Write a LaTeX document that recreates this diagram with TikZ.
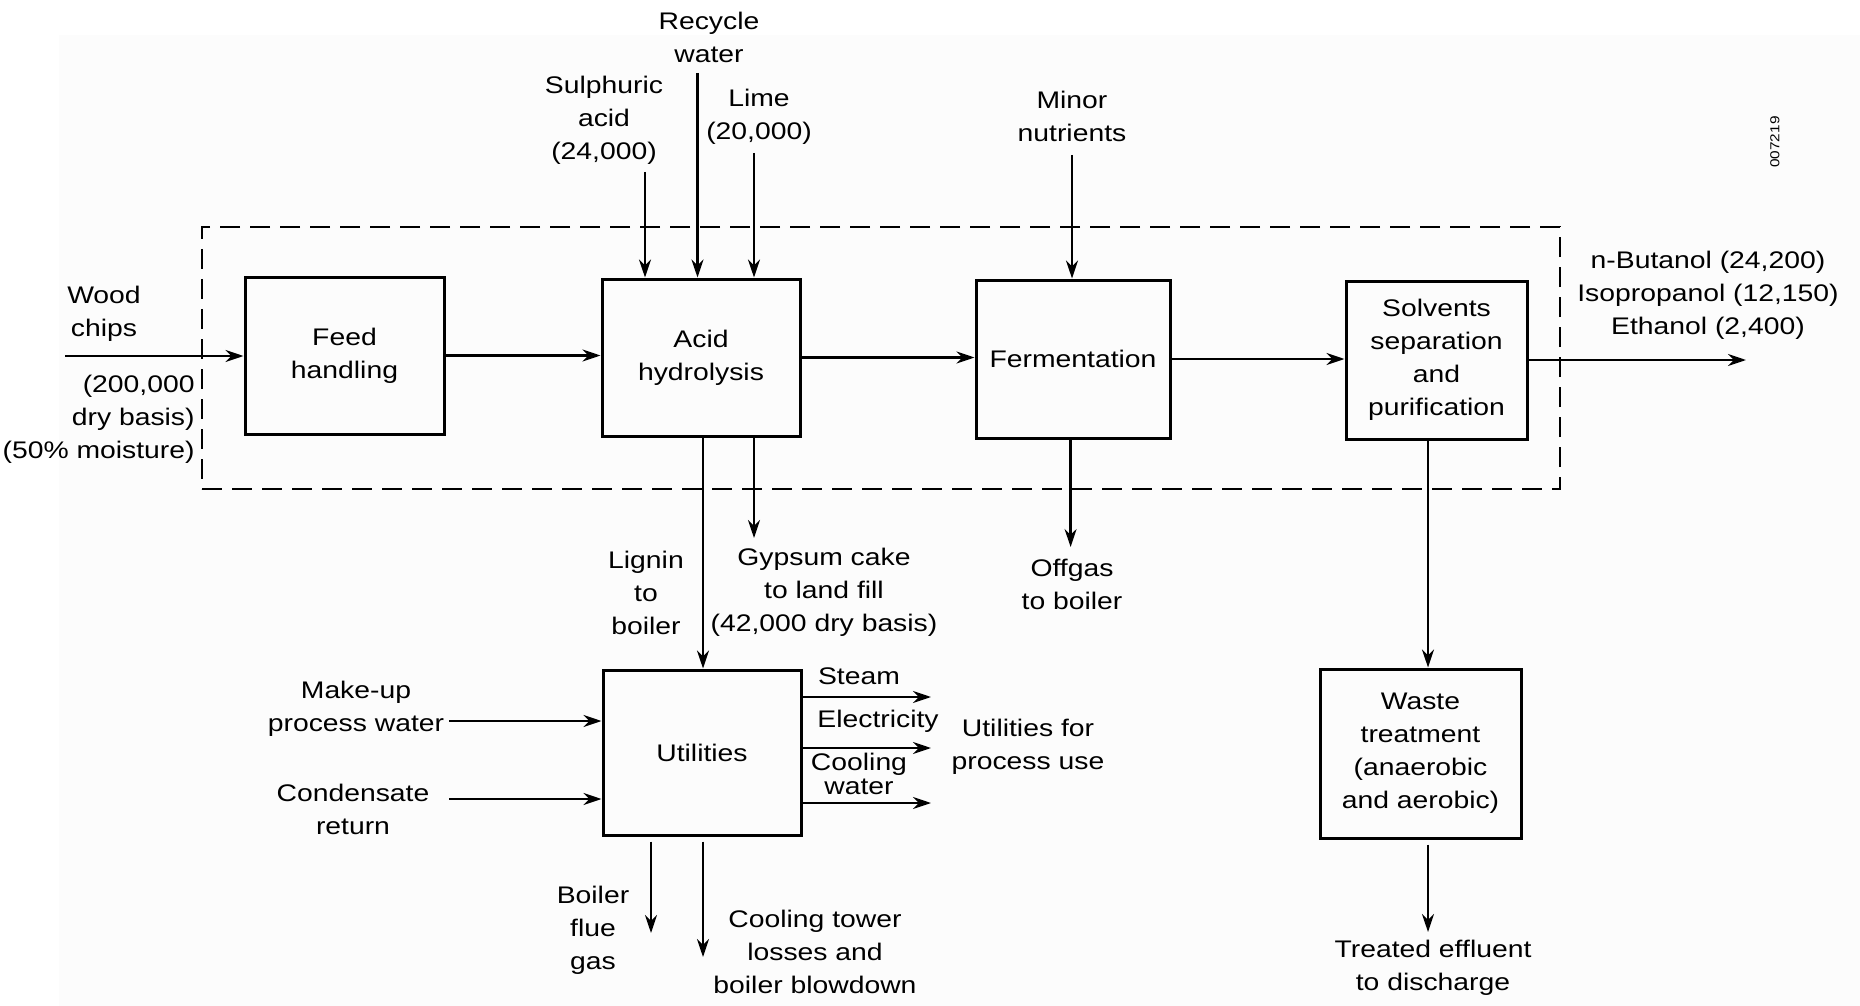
\documentclass[tikz,border=0pt]{standalone}
\usepackage{fontspec}
\setmainfont{Liberation Sans}[FakeStretch=1.18]
\usetikzlibrary{arrows.meta}
\definecolor{bgc}{RGB}{252,252,252}
\begin{document}
\begin{tikzpicture}[x=0.5pt,y=-0.5pt,
  lbl/.style={font=\fontsize{12}{16.5}\selectfont, align=center, inner sep=0pt},
  box/.style={draw, line width=1.5pt, font=\fontsize{12}{16.5}\selectfont, align=center, inner sep=0pt},
  arr/.style={line width=1.2pt, -{Stealth[length=9pt,width=6pt]}},
  dashbox/.style={draw, line width=1.4pt, dash pattern=on 10pt off 5pt, inner sep=0pt}]
\useasboundingbox (0,0) rectangle (1860,1006);
\fill[bgc] (59,35) rectangle (1860,1006);

% process boxes
\node[box, minimum width=99.5pt, minimum height=78.5pt] (feed) at (344.5,355.5) {Feed\\handling};
\node[box, minimum width=99pt, minimum height=78.5pt] (acid) at (701,357.5) {Acid\\hydrolysis};
\node[box, minimum width=97pt, minimum height=79pt] (ferm) at (1073,359) {Fermentation};
\node[box, minimum width=90.5pt, minimum height=79pt] (solv) at (1436.5,360) {Solvents\\separation\\and\\purification};
\node[box, minimum width=99pt, minimum height=82.5pt] (util) at (702,752.5) {Utilities};
\node[box, minimum width=100.5pt, minimum height=84.5pt] (waste) at (1420.5,753.5) {Waste\\treatment\\(anaerobic\\and aerobic)};
\node[dashbox, minimum width=679pt, minimum height=131pt] (plant) at (881,358) {};

% labels
\node[lbl] (rwl) at (709,37.5) {Recycle\\water};
\node[lbl] (sal) at (604,120) {Sulphuric\\acid\\(24,000)};
\node[lbl] (lil) at (759,116.5) {Lime\\(20,000)};
\node[lbl] (mnl) at (1072,116) {Minor\\nutrients};
\node[lbl] (wcl) at (104,313.5) {Wood\\chips};
\node[lbl, align=right, anchor=east] (wcq) at (195,419) {(200,000\\dry basis)\\(50\% moisture)};
\node[lbl] (prl) at (1708,295) {n-Butanol (24,200)\\Isopropanol (12,150)\\Ethanol (2,400)};
\node[lbl, font=\fontsize{6.5}{7}\selectfont, rotate=90] (code) at (1775,142) {007219};
\node[lbl] (lgl) at (646,593) {Lignin\\to\\boiler};
\node[lbl] (gyl) at (824,592) {Gypsum cake\\to land fill\\(42,000 dry basis)};
\node[lbl] (ogl) at (1072,584) {Offgas\\to boiler};
\node[lbl] (mul) at (356,709) {Make-up\\process water};
\node[lbl] (crl) at (353,809) {Condensate\\return};
\node[lbl] (stl) at (859,676) {Steam};
\node[lbl] (ell) at (878,721) {Electricity};
\node[lbl, font=\fontsize{12}{12}\selectfont] (cwl) at (859,774) {Cooling\\water};
\node[lbl] (upl) at (1028,746.5) {Utilities for\\process use};
\node[lbl] (bfl) at (593,930) {Boiler\\flue\\gas};
\node[lbl] (ctl) at (815,952) {Cooling tower\\losses and\\boiler blowdown};
\node[lbl] (tel) at (1433,968) {Treated effluent\\to discharge};

% free ends
\coordinate (wood0) at (65,356);
\coordinate (prod) at (1746,361);
\coordinate (sa) at (645,172);
\coordinate (rw) at (697.5,73);
\coordinate (li) at (754,153);
\coordinate (mn) at (1072,155);
\coordinate (gy) at (754,538);
\coordinate (og) at (1070.6,547);
\coordinate (te) at (1428,932);
\coordinate (mu) at (449,721);
\coordinate (cr) at (449,799);
\coordinate (st) at (931,697);
\coordinate (el) at (931,748);
\coordinate (cw) at (931,803);
\coordinate (bf) at (651,933);
\coordinate (ct) at (703,957);

% main line
\draw[arr] (wood0) -- (wood0 -| feed.west);
\draw[arr] (feed.east) -- (feed.east -| acid.west);
\draw[arr] (acid.east) -- (acid.east -| ferm.west);
\draw[arr] (ferm.east) -- (ferm.east -| solv.west);
\draw[arr] (solv.east) -- (solv.east -| prod);

% inputs from top
\draw[arr] (sa) -- (sa |- acid.north);
\draw[arr] (rw) -- (rw |- acid.north);
\draw[arr] (li) -- (li |- acid.north);
\draw[arr] (mn) -- (mn |- ferm.north);

% outputs downward
\draw[arr] ([xshift=1pt]acid.south) -- ([xshift=1pt]acid.south |- util.north);
\draw[arr] (gy |- acid.south) -- (gy);
\draw[arr] (og |- ferm.south) -- (og);
\draw[arr] ([xshift=-4.25pt]solv.south) -- ([xshift=-4.25pt]solv.south |- waste.north);
\draw[arr, shorten <=2.5pt] (te |- waste.south) -- (te);

% utilities
\draw[arr] (mu) -- (mu -| util.west);
\draw[arr] (cr) -- (cr -| util.west);
\draw[arr] (st -| util.east) -- (st);
\draw[arr] (el -| util.east) -- (el);
\draw[arr] (cw -| util.east) -- (cw);
\draw[arr, shorten <=2.5pt] (bf |- util.south) -- (bf);
\draw[arr, shorten <=2.5pt] (ct |- util.south) -- (ct);
\end{tikzpicture}
\end{document}
